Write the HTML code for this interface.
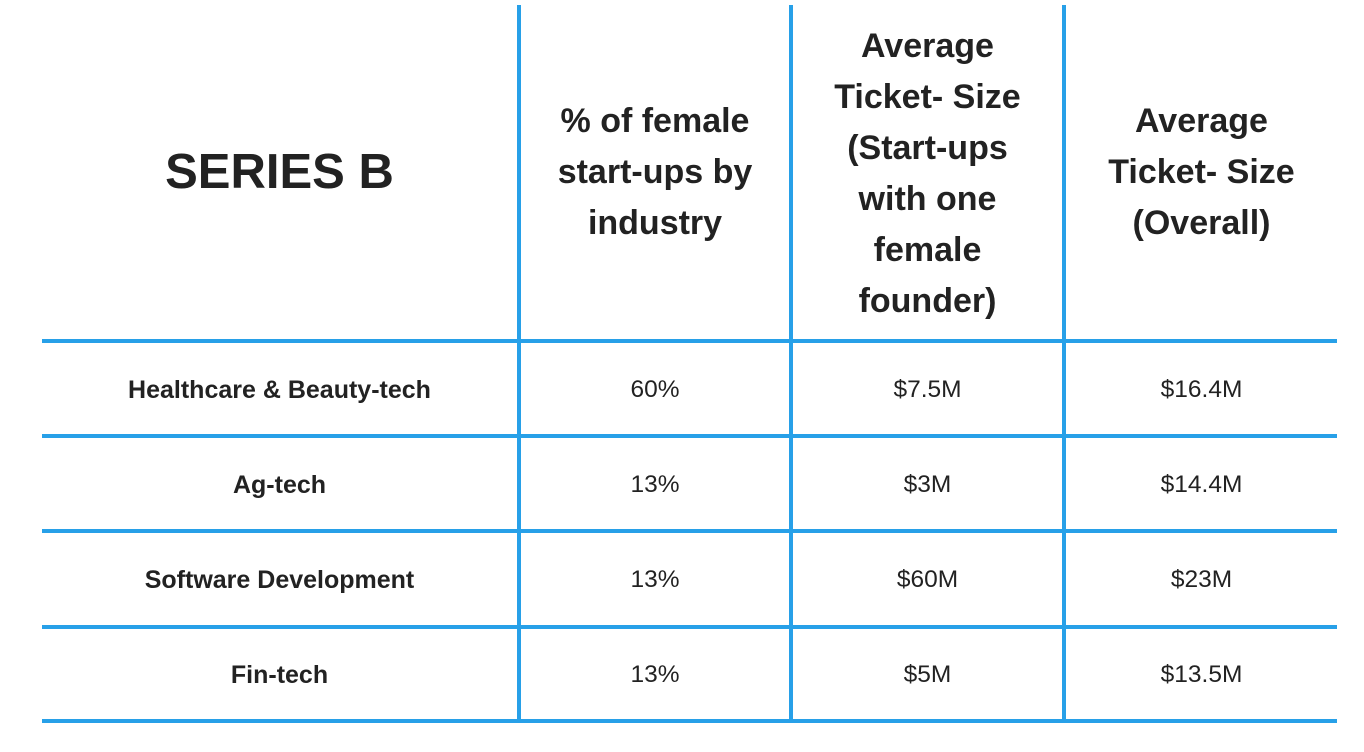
<!DOCTYPE html>
<html><head><meta charset="utf-8"><style>
html,body{margin:0;padding:0;background:#fff;}
body{width:1364px;height:752px;position:relative;overflow:hidden;font-family:"Liberation Sans","DejaVu Sans",sans-serif;color:#222;}
.v{position:absolute;top:5px;height:717px;width:4px;background:#27a0e8;}
.h{position:absolute;left:42px;width:1295px;height:4px;background:#27a0e8;}
.c{position:absolute;text-align:center;display:flex;align-items:center;justify-content:center;}
.hd{font-weight:bold;font-size:34px;line-height:51px;}
.r{font-size:24.5px;height:94px;}
.b{font-weight:bold;font-size:25px;}
</style></head><body>
<div class="v" style="left:517px"></div>
<div class="v" style="left:789px"></div>
<div class="v" style="left:1062px"></div>
<div class="h" style="top:339px"></div>
<div class="h" style="top:434px"></div>
<div class="h" style="top:529px"></div>
<div class="h" style="top:625px"></div>
<div class="h" style="top:719px"></div>

<div class="c" style="left:42px;width:475px;top:5px;height:334px;font-weight:bold;font-size:49px;">SERIES B</div>
<div class="c hd" style="left:521px;width:268px;top:5px;height:334px;">% of female<br>start-ups by<br>industry</div>
<div class="c hd" style="left:793px;width:269px;top:20px;height:308px;">Average<br>Ticket- Size<br>(Start-ups<br>with one<br>female<br>founder)</div>
<div class="c hd" style="left:1066px;width:271px;top:5px;height:334px;">Average<br>Ticket- Size<br>(Overall)</div>

<div class="c r b" style="left:42px;width:475px;top:343px">Healthcare &amp; Beauty-tech</div>
<div class="c r" style="left:521px;width:268px;top:343px">60%</div>
<div class="c r" style="left:793px;width:269px;top:343px">$7.5M</div>
<div class="c r" style="left:1066px;width:271px;top:343px">$16.4M</div>

<div class="c r b" style="left:42px;width:475px;top:438px">Ag-tech</div>
<div class="c r" style="left:521px;width:268px;top:438px">13%</div>
<div class="c r" style="left:793px;width:269px;top:438px">$3M</div>
<div class="c r" style="left:1066px;width:271px;top:438px">$14.4M</div>

<div class="c r b" style="left:42px;width:475px;top:533px">Software Development</div>
<div class="c r" style="left:521px;width:268px;top:533px">13%</div>
<div class="c r" style="left:793px;width:269px;top:533px">$60M</div>
<div class="c r" style="left:1066px;width:271px;top:533px">$23M</div>

<div class="c r b" style="left:42px;width:475px;top:628px">Fin-tech</div>
<div class="c r" style="left:521px;width:268px;top:628px">13%</div>
<div class="c r" style="left:793px;width:269px;top:628px">$5M</div>
<div class="c r" style="left:1066px;width:271px;top:628px">$13.5M</div>
</body></html>
